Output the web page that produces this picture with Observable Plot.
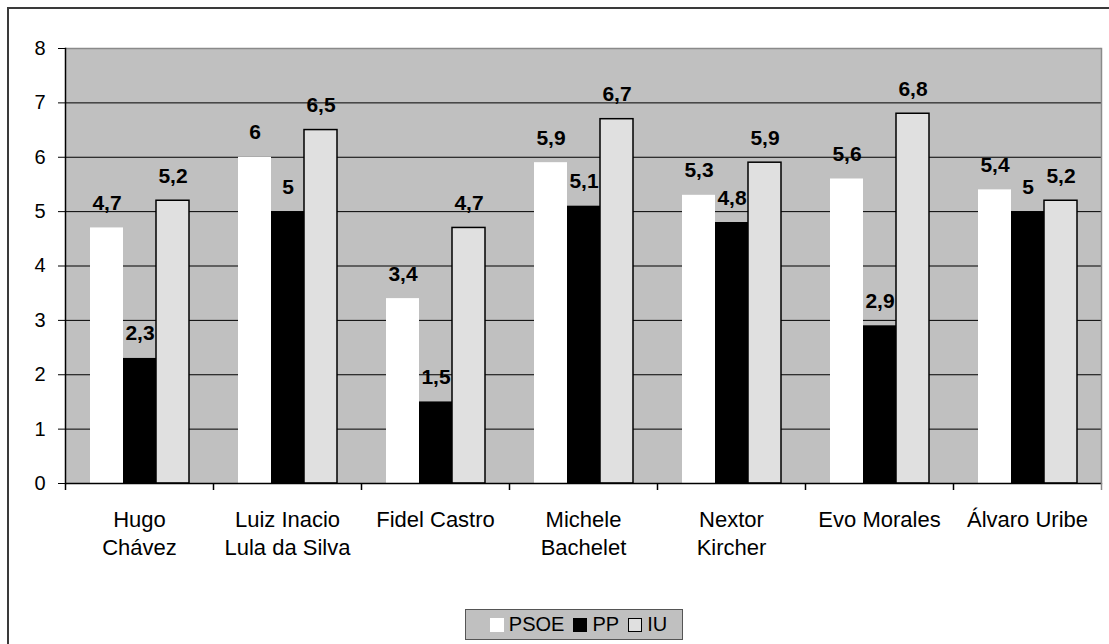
<!DOCTYPE html>
<html>
<head>
<meta charset="utf-8">
<script src="https://cdn.jsdelivr.net/npm/d3@7"></script>
<script src="https://cdn.jsdelivr.net/npm/@observablehq/plot@0.6"></script>
<style>
  html, body { margin: 0; padding: 0; background: #fff; }
  #wrap { position: relative; width: 1109px; height: 644px; overflow: hidden; font-family: "Liberation Sans", Arial, sans-serif; }
  #border { position: absolute; left: 7px; top: 7px; width: 1110px; height: 660px; border: 2px solid #3a3a3a; box-sizing: border-box; }
  #chart { position: absolute; left: 0; top: 0; }
  #legend { position: absolute; left: 465px; top: 609px; width: 218px; height: 31px; box-sizing: border-box;
            background: #c0c0c0; border: 1.5px solid #555; display: flex; align-items: center; justify-content: center; gap: 0; font-size: 20px; color: #000; }
  .sw { display: inline-block; width: 14px; height: 14px; box-sizing: border-box; margin: 0 5px 0 9px; }
</style>
</head>
<body>
<div id="wrap">
  <div id="border"></div>
  <div id="chart"></div>
  <div id="legend"></div>
</div>
<script>
const categories = ["Hugo\nChávez", "Luiz Inacio\nLula da Silva", "Fidel Castro", "Michele\nBachelet", "Nextor\nKircher", "Evo Morales", "Álvaro Uribe"];
const series = ["PSOE", "PP", "IU"];
const psoe = [4.7, 6, 3.4, 5.9, 5.3, 5.6, 5.4];
const pp   = [2.3, 5, 1.5, 5.1, 4.8, 2.9, 5];
const iu   = [5.2, 6.5, 4.7, 6.7, 5.9, 6.8, 5.2];
const yTicks = [0, 1, 2, 3, 4, 5, 6, 7, 8];
const seriesColors = ["#ffffff", "#000000", "#e0e0e0"];

const values = {PSOE: psoe, PP: pp, IU: iu};
const data = [];
categories.forEach((c, i) => series.forEach(s => data.push({cat: c, series: s, value: values[s][i]})));

const W = 1109, H = 600, mL = 65, mR = 8, mT = 48, mB = 117;
const halfBand = (W - mL - mR) / categories.length / 2;
const fmt = v => String(v).replace(".", ",");
const font = "'Liberation Sans', Arial, sans-serif";

const chart = Plot.plot({
  width: W, height: H,
  marginLeft: mL, marginRight: mR, marginTop: mT, marginBottom: mB,
  style: {fontFamily: font, fontSize: "20px", color: "#000", background: "transparent", overflow: "visible"},
  fx: {domain: categories, padding: 0, label: null, axis: null},
  x: {domain: series, axis: null, paddingInner: 0, paddingOuter: 0.7},
  y: {domain: [0, 8], axis: null},
  color: {domain: series, range: seriesColors},
  marks: [
    Plot.frame({fill: "#c0c0c0", stroke: "none", insetLeft: -0.5, insetRight: -0.5}),
    Plot.ruleY(yTicks.filter(t => t > 0 && t < 8), {stroke: "#000", strokeWidth: 1}),
    Plot.ruleY([8], {stroke: "#8a8a8a", strokeWidth: 1.5}),
    Plot.frame({anchor: "right", facetAnchor: "right", stroke: "#8a8a8a", strokeWidth: 1.5}),
    Plot.barY(data.filter(d => d.series !== "IU"), {fx: "cat", x: "series", y: "value", fill: "series"}),
    Plot.barY(data.filter(d => d.series === "IU"), {fx: "cat", x: "series", y: "value", fill: "series", stroke: "#000", strokeWidth: 1.5}),
    Plot.text(data, {fx: "cat", x: "series", y: "value", text: d => fmt(d.value), lineAnchor: "bottom", dy: -18,
                     fontWeight: "bold", fontSize: 21, fill: "#000"}),
    Plot.ruleY([0], {stroke: "#000", strokeWidth: 1.5}),
    Plot.frame({anchor: "left", facetAnchor: "left", stroke: "#000", strokeWidth: 1.5}),
    Plot.axisY({ticks: yTicks, tickSize: 7, tickPadding: 13, fontSize: 20, tickFormat: d => String(d), stroke: "#000", label: null}),
    Plot.axisFx({anchor: "bottom", tickSize: 0, tickPadding: 24, fontSize: 22, lineHeight: 1.25, label: null}),
    Plot.axisFx({anchor: "bottom", tickSize: 7, tickFormat: () => "", dx: -halfBand, label: null, strokeWidth: 1.5}),
    Plot.axisFx({anchor: "bottom", ticks: categories.slice(-1), tickSize: 7, tickFormat: () => "", dx: halfBand, label: null, stroke: "#8a8a8a", strokeWidth: 1.5})
  ]
});
document.getElementById("chart").appendChild(chart);

const legend = document.getElementById("legend");
series.forEach((s, i) => {
  const sw = document.createElement("span");
  sw.className = "sw";
  sw.style.background = seriesColors[i];
  sw.style.border = i === 2 ? "1.5px solid #000" : "none";
  legend.appendChild(sw);
  const t = document.createElement("span");
  t.textContent = s;
  legend.appendChild(t);
});
</script>
</body>
</html>
